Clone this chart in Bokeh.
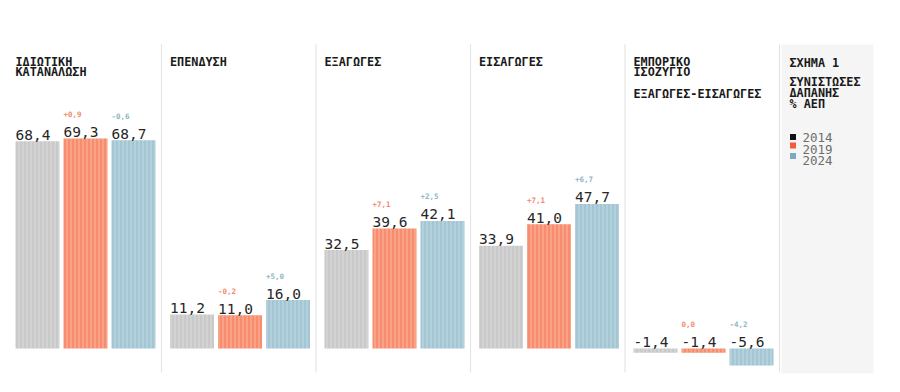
from bokeh.plotting import figure
from bokeh.models import Range1d, ColumnDataSource
from bokeh.core.properties import value
from bokeh.embed import file_html
from bokeh.resources import INLINE

# ---- data ----
panels = ["ΙΔΙΩΤΙΚΗ\nΚΑΤΑΝΑΛΩΣΗ", "ΕΠΕΝΔΥΣΗ", "ΕΞΑΓΩΓΕΣ", "ΕΙΣΑΓΩΓΕΣ", "ΕΜΠΟΡΙΚΟ\nΙΣΟΖΥΓΙΟ"]
subtitle5 = "ΕΞΑΓΩΓΕΣ-ΕΙΣΑΓΩΓΕΣ"
years = ["2014", "2019", "2024"]
v2014 = [68.4, 11.2, 32.5, 33.9, -1.4]
v2019 = [69.3, 11.0, 39.6, 41.0, -1.4]
v2024 = [68.7, 16.0, 42.1, 47.7, -5.6]
ch2019 = ["+0,9", "-0,2", "+7,1", "+7,1", "0,0"]
ch2024 = ["-0,6", "+5,0", "+2,5", "+6,7", "-4,2"]
fig_title = "ΣΧΗΜΑ 1"
fig_sub = ["ΣΥΝΙΣΤΩΣΕΣ", "ΔΑΠΑΝΗΣ", "% ΑΕΠ"]

bar_colors = ["#c9c9c9", "#f78d6e", "#a2c6d3"]
legend_colors = ["#111111", "#f25c3a", "#7eaabc"]
change_colors = [None, "#f4896b", "#8cb6c7"]

FONT = "DejaVu Sans Mono"
PX_PER_UNIT = 3.03
BASE = 348  # screen y of zero
W, H = 884, 376

p = figure(width=W, height=H, output_backend="svg", toolbar_location=None,
           x_range=Range1d(0, W),
           y_range=Range1d(-(H - BASE) / PX_PER_UNIT, BASE / PX_PER_UNIT),
           min_border=0, outline_line_color=None)
p.extra_y_ranges = {"px": Range1d(H, 0)}
p.axis.visible = False
p.xgrid.visible = False
p.ygrid.visible = False
p.background_fill_color = "white"
p.border_fill_color = "white"

PANEL_W = 154.5
X0 = 15
BAR_STEP = 48
BAR_W = 44

# right side panel background
p.quad(left=[781], right=[873], top=[44], bottom=[373], y_range_name="px",
       fill_color="#f5f5f5", line_color=None)

# separators
sep_x = [161 + i * PANEL_W for i in range(len(panels))]
p.segment(x0=sep_x, x1=sep_x, y0=[44] * len(sep_x), y1=[372] * len(sep_x),
          y_range_name="px", line_color="#e4e4e4", line_width=1.2)

series = [v2014, v2019, v2024]
changes = [None, ch2019, ch2024]
for s, vals in enumerate(series):
    lefts = [X0 + i * PANEL_W + s * BAR_STEP for i in range(len(vals))]
    src = ColumnDataSource(dict(
        left=lefts, right=[l + BAR_W for l in lefts],
        top=[max(v, 0) for v in vals], bottom=[min(v, 0) for v in vals],
        lab=[f"{v:.1f}".replace(".", ",") for v in vals],
        ly=[max(v, 0) for v in vals],
    ))
    p.quad(left="left", right="right", top="top", bottom="bottom", source=src,
           fill_color=bar_colors[s], line_color=None,
           hatch_pattern="vertical_line", hatch_color="white", hatch_alpha=0.45,
           hatch_scale=4, hatch_weight=0.8)
    p.text(x="left", y="ly", text="lab", source=src, y_offset=-6.5,
           text_font=value(FONT), text_font_size="14.5px", text_color="#262626",
           text_baseline="alphabetic", text_align="left")
    if changes[s] is not None:
        src.data["ch"] = changes[s]
        p.text(x="left", y="ly", text="ch", source=src, y_offset=-24.5,
               text_font=value(FONT), text_font_size="7.5px", text_font_style="bold",
               text_color=change_colors[s], text_baseline="alphabetic", text_align="left")

# panel titles
tx, ty, tt = [], [], []
for i, t in enumerate(panels):
    for j, line in enumerate(t.split("\n")):
        tx.append(X0 + i * PANEL_W)
        ty.append(61 + j * 10.5)
        tt.append(line)
tx.append(X0 + 4 * PANEL_W); ty.append(93); tt.append(subtitle5)
tx.append(789); ty.append(62); tt.append(fig_title)
for j, line in enumerate(fig_sub):
    tx.append(789); ty.append(81.5 + j * 10.8); tt.append(line)
p.text(x=tx, y=ty, text=tt, y_range_name="px", text_font=value(FONT),
       text_font_size="11.8px", text_font_style="bold", text_color="#1a1a1a",
       text_baseline="alphabetic", text_align="left")

# legend
ly_txt = [137, 148.5, 159.5]
p.rect(x=[792.5] * 3, y=[136.5, 145, 155.5], width=6, height=6, y_range_name="px",
       fill_color=legend_colors, line_color=None)
p.text(x=[802] * 3, y=ly_txt, text=years, y_range_name="px", text_font=value(FONT),
       text_font_size="12.5px", text_color="#6e6e6e", text_baseline="alphabetic",
       text_align="left")

open("out.html", "w").write(file_html(p, INLINE))
